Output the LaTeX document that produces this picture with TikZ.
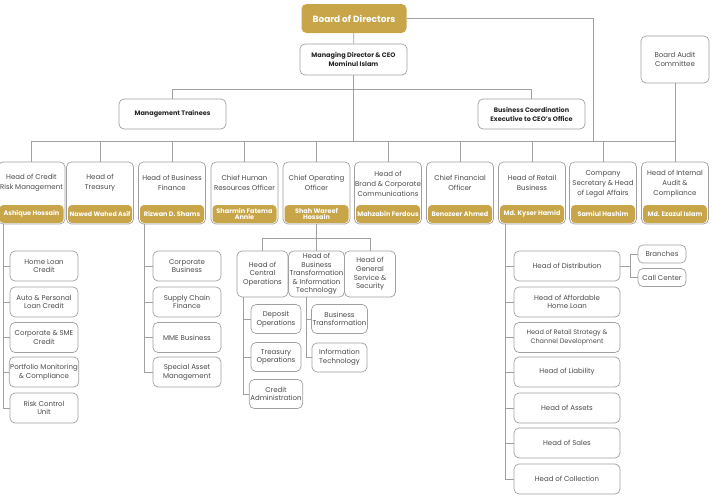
\documentclass[tikz,border=0pt]{standalone}
\usepackage{fontspec}
\setmainfont{Poppins}
\usepackage{xcolor}
\usepackage{tikz}
\definecolor{gold}{RGB}{199,165,72}
\definecolor{edgegray}{RGB}{160,160,160}
\definecolor{txtgray}{RGB}{75,75,75}

\begin{document}
\begin{tikzpicture}[x=1pt, y=-1pt,
  box/.style={draw=edgegray, line width=0.7pt, rounded corners=5pt, fill=white,
              text=txtgray, align=center, inner sep=1pt,
              font=\fontsize{7}{8.6}\selectfont},
  headbox/.style={box, minimum width=67pt, minimum height=62pt},
  title/.style={align=center, text=txtgray, inner sep=0pt,
                font=\fontsize{7}{10}\selectfont},
  namebox/.style={fill=gold, rounded corners=4pt, text=white, align=center,
                  minimum width=64pt, minimum height=18pt, inner sep=0pt,
                  font=\bfseries\fontsize{6.5}{6.8}\selectfont},
  topbox/.style={box, text=black!85, font=\bfseries\fontsize{6.5}{9}\selectfont,
                 minimum width=107pt, minimum height=30pt},
  subbox/.style={box, minimum width=68pt, minimum height=30pt},
  link/.style={draw=edgegray, line width=0.8pt},
]
  \useasboundingbox (0,0) rectangle (712,496);

  % Board and CEO
  \node[fill=gold, rounded corners=5pt, text=white, minimum width=105pt,
        minimum height=29pt, font=\bfseries\fontsize{9}{10}\selectfont] (bod) at (354,18.5)
    {Board of Directors};
  \node[topbox, minimum height=31pt] (md) at (353.5,59.5) {Managing Director \& CEO\\Mominul Islam};
  \node[topbox] (mt) at (172.5,114) {Management Trainees};
  \node[topbox] (bce) at (531.5,114) {Business Coordination\\Executive to CEO's Office};
  \node[box, minimum width=68pt, minimum height=47pt] (bac) at (675,59.5) {Board Audit\\Committee};

  % Heads row
  \node[headbox] (crm) at (31.5,193) {};
  \node[title] (crmt) at (31.5,183) {Head of Credit\\Risk Management};
  \node[namebox] (crmn) at (31.5,214) {Ashique Hossain};

  \node[headbox] (trs) at (100,193) {};
  \node[title] (trst) at (100,183) {Head of\\Treasury};
  \node[namebox, font=\bfseries\fontsize{6.3}{6.8}\selectfont] (trsn) at (100,214) {Nawed Wahed Asif};

  \node[headbox] (bf) at (172,193) {};
  \node[title] (bft) at (172,183) {Head of Business\\Finance};
  \node[namebox] (bfn) at (172,214) {Rizwan D. Shams};

  \node[headbox] (hr) at (244.5,193) {};
  \node[title] (hrt) at (244.5,183) {Chief Human\\Resources Officer};
  \node[namebox] (hrn) at (244.5,214) {Sharmin Fatema\\Annie};

  \node[headbox] (coo) at (316.5,193) {};
  \node[title] (coot) at (316.5,183) {Chief Operating\\Officer};
  \node[namebox] (coon) at (316.5,214) {Shah Wareef\\Hossain};

  \node[headbox] (brand) at (388,193) {};
  \node[title] (brandt) at (388,184) {Head of\\Brand \& Corporate\\Communications};
  \node[namebox] (brandn) at (388,214) {Mahzabin Ferdous};

  \node[headbox] (cfo) at (460,193) {};
  \node[title] (cfot) at (460,183) {Chief Financial\\Officer};
  \node[namebox] (cfon) at (460,214) {Benozeer Ahmed};

  \node[headbox] (rb) at (532,193) {};
  \node[title] (rbt) at (532,183) {Head of Retail\\Business};
  \node[namebox] (rbn) at (532,214) {Md. Kyser Hamid};

  \node[headbox] (cs) at (603,193) {};
  \node[title] (cst) at (603,184) {Company\\Secretary \& Head\\of Legal Affairs};
  \node[namebox] (csn) at (603,214) {Samiul Hashim};

  \node[headbox] (ia) at (675,193) {};
  \node[title] (iat) at (675,184) {Head of Internal\\Audit \&\\Compliance};
  \node[namebox] (ian) at (675,214) {Md. Ezazul Islam};

  % Credit risk units
  \node[subbox] (hlc) at (44,266) {Home Loan\\Credit};
  \node[subbox] (apl) at (44,302) {Auto \& Personal\\Loan Credit};
  \node[subbox] (sme) at (44,337.5) {Corporate \& SME\\Credit};
  \node[subbox] (pmc) at (44,372) {Portfolio Monitoring\\\& Compliance};
  \node[subbox] (rcu) at (44,408) {Risk Control\\Unit};

  % Business finance units
  \node[subbox] (cb) at (187,266) {Corporate\\Business};
  \node[subbox] (scf) at (187,302) {Supply Chain\\Finance};
  \node[subbox] (mme) at (187,337.5) {MME Business};
  \node[subbox] (sam) at (187,372) {Special Asset\\Management};

  % Operations
  \node[box, minimum width=51pt, minimum height=46pt] (hco) at (262.5,274) {Head of\\Central\\Operations};
  \node[box, minimum width=51pt, minimum height=46pt] (hbt) at (316.5,274)
    {Head of\\Business\\Transformation\\\& Information\\Technology};
  \node[box, minimum width=51pt, minimum height=46pt] (gss) at (370,274) {Head of\\General\\Service \&\\Security};

  \node[box, minimum width=50pt, minimum height=29pt] (dep) at (276,319) {Deposit\\Operations};
  \node[box, minimum width=50pt, minimum height=29pt] (tro) at (276,357) {Treasury\\Operations};
  \node[box, minimum width=50pt, minimum height=29pt] (cad) at (276,394) {Credit\\Administration};
  \node[box, minimum width=55pt, minimum height=29pt] (btr) at (339.5,319) {Business\\Transformation};
  \node[box, minimum width=55pt, minimum height=29pt] (itc) at (339.5,357.5) {Information\\Technology};

  % Retail units
  \node[subbox, minimum width=106pt] (dist) at (567,266) {Head of Distribution};
  \node[subbox, minimum width=106pt] (ahl) at (567,302) {Head of Affordable\\Home Loan};
  \node[subbox, minimum width=106pt, font=\fontsize{6.5}{8.4}\selectfont] (rsc) at (567,337.5)
    {Head of Retail Strategy \&\\Channel Development};
  \node[subbox, minimum width=106pt] (liab) at (567,372) {Head of Liability};
  \node[subbox, minimum width=106pt] (ast) at (567,408) {Head of Assets};
  \node[subbox, minimum width=106pt] (sal) at (567,443) {Head of Sales};
  \node[subbox, minimum width=106pt] (col) at (567,479) {Head of Collection};

  \node[box, minimum width=48pt, minimum height=18pt] (br) at (662,254) {Branches};
  \node[box, minimum width=48pt, minimum height=18pt] (cc) at (662,277.5) {Call Center};

  % Connectors
  \coordinate (split) at (353.5,89);
  \coordinate (bus) at (353.5,141);
  \coordinate (busr) at (593,141);
  \coordinate (coosplit) at (316.5,238);
  \coordinate (distsplit) at (630,266);

  \draw[link] (bod) -- (md);
  \draw[link] (bod.east) -| (busr);
  \draw[link] (md) -- (bus);
  \draw[link] (mt.north) |- (split);
  \draw[link] (bce.north) |- (split);
  \draw[link] (bac) -- (ia);
  \draw[link] (crm.north) |- (bus);
  \draw[link] (trs.north) |- (bus);
  \draw[link] (bf.north) |- (bus);
  \draw[link] (hr.north) |- (bus);
  \draw[link] (coo.north) |- (bus);
  \draw[link] (brand.north) |- (bus);
  \draw[link] (cfo.north) |- (bus);
  \draw[link] (rb.north) |- (bus);
  \draw[link] (cs.north) |- (bus);
  \draw[link] (ia.north) |- (bus);

  \draw[link] (crm.south -| 3,0) |- (hlc.west);
  \draw[link] (crm.south -| 3,0) |- (apl.west);
  \draw[link] (crm.south -| 3,0) |- (sme.west);
  \draw[link] (crm.south -| 3,0) |- (pmc.west);
  \draw[link] (crm.south -| 3,0) |- (rcu.west);

  \draw[link] (bf.south -| 144,0) |- (cb.west);
  \draw[link] (bf.south -| 144,0) |- (scf.west);
  \draw[link] (bf.south -| 144,0) |- (mme.west);
  \draw[link] (bf.south -| 144,0) |- (sam.west);

  \draw[link] (coo.south) -- (coosplit);
  \draw[link] (hco.north) |- (coosplit);
  \draw[link] (hbt.north) -- (coosplit);
  \draw[link] (gss.north) |- (coosplit);

  \draw[link] (hco.south -| 243,0) |- (dep.west);
  \draw[link] (hco.south -| 243,0) |- (tro.west);
  \draw[link] (hco.south -| 243,0) |- (cad.west);
  \draw[link] (hbt.south -| 306,0) |- (btr.west);
  \draw[link] (hbt.south -| 306,0) |- (itc.west);

  \draw[link] (rb.south -| 505,0) |- (dist.west);
  \draw[link] (rb.south -| 505,0) |- (ahl.west);
  \draw[link] (rb.south -| 505,0) |- (rsc.west);
  \draw[link] (rb.south -| 505,0) |- (liab.west);
  \draw[link] (rb.south -| 505,0) |- (ast.west);
  \draw[link] (rb.south -| 505,0) |- (sal.west);
  \draw[link] (rb.south -| 505,0) |- (col.west);

  \draw[link] (dist.east) -- (distsplit);
  \draw[link] (distsplit) |- (br.west);
  \draw[link] (distsplit) |- (cc.west);
\end{tikzpicture}
\end{document}
